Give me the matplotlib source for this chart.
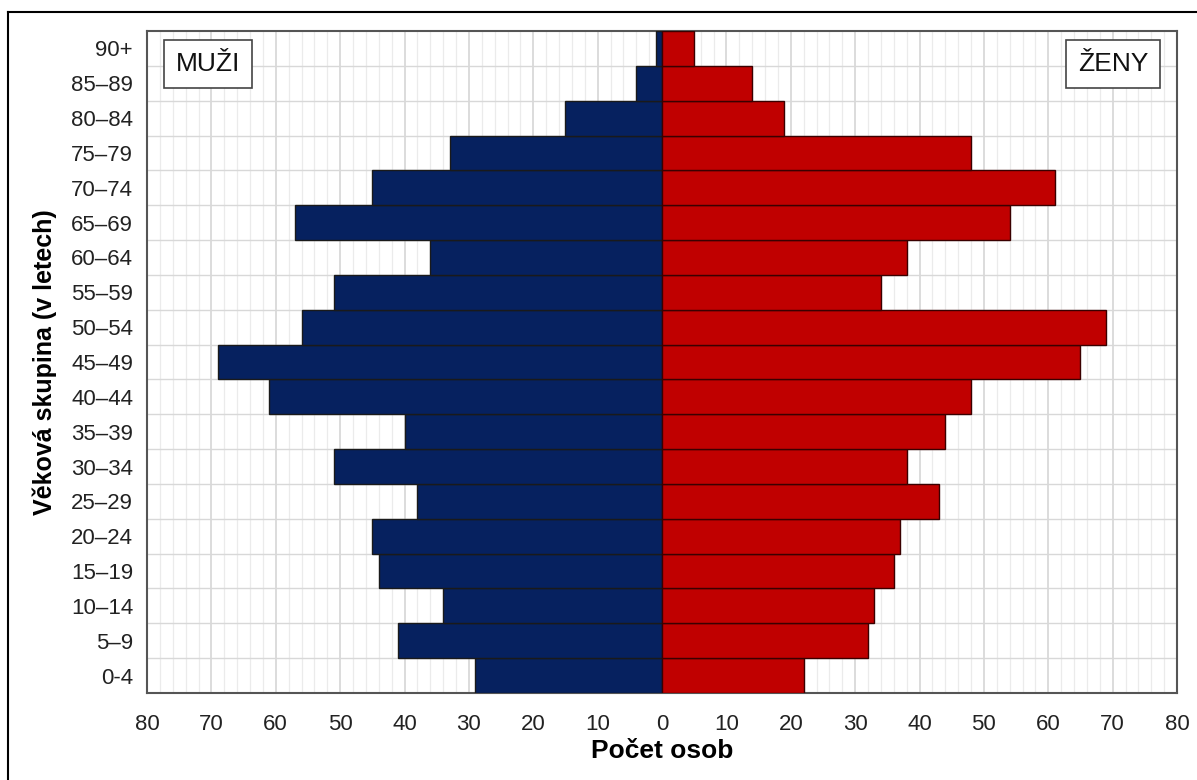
import matplotlib
matplotlib.use("Agg")
import matplotlib.pyplot as plt
from matplotlib.ticker import MultipleLocator, FixedLocator, FuncFormatter
from matplotlib.lines import Line2D

plt.rcParams['font.family'] = ['Liberation Sans', 'DejaVu Sans']

age_groups = ["0-4", "5–9", "10–14", "15–19", "20–24", "25–29", "30–34", "35–39",
              "40–44", "45–49", "50–54", "55–59", "60–64", "65–69", "70–74",
              "75–79", "80–84", "85–89", "90+"]
men = [29, 41, 34, 44, 45, 38, 51, 40, 61, 69, 56, 51, 36, 57, 45, 33, 15, 4, 1]
women = [22, 32, 33, 36, 37, 43, 38, 44, 48, 65, 69, 34, 38, 54, 61, 48, 19, 14, 5]
x_ticks = [-80, -70, -60, -50, -40, -30, -20, -10, 0, 10, 20, 30, 40, 50, 60, 70, 80]

fig = plt.figure(figsize=(11.97, 7.80), dpi=100)
ax = fig.add_axes([147/1197, 1 - 693/780, 1030/1197, 662/780])

y = list(range(len(age_groups)))
ax.barh(y, [-m for m in men], height=1.0, color="#06215f", edgecolor="#1a1a1a", linewidth=1.0, zorder=3)
ax.barh(y, women, height=1.0, color="#c00000", edgecolor="#3a0000", linewidth=1.0, zorder=3)

ax.set_xlim(-80, 80)
ax.set_ylim(-0.5, len(age_groups) - 0.5)
ax.xaxis.set_major_locator(FixedLocator(x_ticks))
ax.xaxis.set_minor_locator(MultipleLocator(2))
ax.xaxis.set_major_formatter(FuncFormatter(lambda v, p: f"{abs(int(round(v)))}"))
ax.set_yticks(y)
ax.set_yticklabels(age_groups)
ax.set_yticks([i - 0.5 for i in range(1, len(age_groups))], minor=True)

ax.grid(which="minor", axis="x", color="#ebebeb", linewidth=0.9, zorder=0)
ax.grid(which="major", axis="x", color="#d2d2d2", linewidth=1.1, zorder=0)
ax.grid(which="minor", axis="y", color="#d8d8d8", linewidth=1.0, zorder=0)
ax.set_axisbelow(True)

ax.tick_params(axis="both", which="both", length=0)
ax.tick_params(axis="x", labelsize=16, pad=15, labelcolor="#222222")
ax.tick_params(axis="y", labelsize=16, pad=10, labelcolor="#222222")

for s in ax.spines.values():
    s.set_color("#555555")
    s.set_linewidth(1.5)

ax.set_xlabel("Počet osob", fontsize=19, fontweight="bold", labelpad=3)
ax.set_ylabel("Věková skupina (v letech)", fontsize=18, fontweight="bold", labelpad=10)

box = dict(boxstyle="square,pad=0.45", facecolor="white", edgecolor="#444444", linewidth=1.2)
ax.text(0.028, 0.968, "MUŽI", transform=ax.transAxes, fontsize=19, ha="left", va="top",
        bbox=box, zorder=5, color="#111111")
ax.text(0.972, 0.968, "ŽENY", transform=ax.transAxes, fontsize=19, ha="right", va="top",
        bbox=box, zorder=5, color="#111111")

# outer border (left and top)
fig.add_artist(Line2D([8/1197, 8/1197], [0, 1 - 12/780], transform=fig.transFigure, color="black", linewidth=1.5))
fig.add_artist(Line2D([8/1197, 1], [1 - 12/780, 1 - 12/780], transform=fig.transFigure, color="black", linewidth=1.5))

fig.savefig("out.png", dpi=100)
